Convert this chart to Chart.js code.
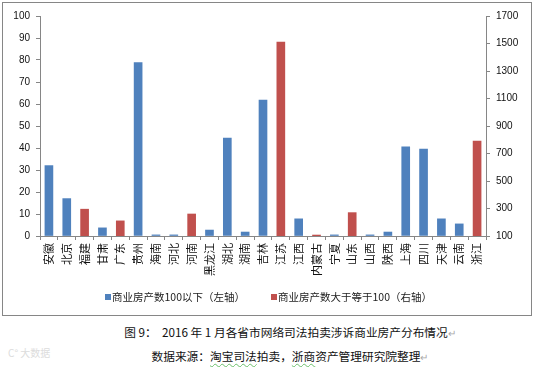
<!DOCTYPE html>
<html>
<head>
<meta charset="utf-8">
<script src="https://cdn.jsdelivr.net/npm/chart.js@4/dist/chart.umd.min.js"></script>
<style>
    body { margin: 0; background: #fff; width: 534px; height: 367px; position: relative; overflow: hidden; }
    #chart-box { position: absolute; left: 2px; top: 2px; width: 528px; height: 312px; border: 1px solid #868686; }
    #chart-box canvas { display: block; }
    .legend-item { position: absolute; top: 290px; font: 10.5px "Noto Sans CJK SC", sans-serif; color: #222; line-height: 14px; white-space: nowrap; }
    .legend-swatch { position: absolute; width: 6px; height: 6px; top: 294px; }
    .caption { position: absolute; left: 0; width: 580px; text-align: center; font: 11.7px "Noto Sans CJK SC", sans-serif; color: #111; white-space: nowrap; }
    .mark { color: #aaa; font-size: 10px; }
    .wavy { text-decoration: underline wavy #6bbf6b; text-decoration-thickness: 1px; text-underline-offset: 2px; }
    #watermark { position: absolute; left: 8px; top: 345px; font: 10px "Noto Sans CJK SC", sans-serif; color: #dcdcdc; }
</style>
</head>
<body>
<div id="chart-box"><canvas id="c" width="528" height="312"></canvas></div>

<span class="legend-swatch" style="left:105px;background:#4f81bd"></span>
<span class="legend-item" style="left:112px">商业房产数100以下（左轴）</span>
<span class="legend-swatch" style="left:271px;background:#c0504d"></span>
<span class="legend-item" style="left:278px">商业房产数大于等于100（右轴）</span>

<div class="caption" style="top:323px">图 9：&nbsp; 2016 年 1 月各省市网络司法拍卖涉诉商业房产分布情况<span class="mark">↵</span></div>
<div class="caption" style="top:347px">数据来源：<span class="wavy">淘宝司法</span>拍卖，<span class="wavy">浙商</span>资产管理研究院整理<span class="mark">↵</span></div>
<div id="watermark">C° 大数据</div>

<script>
    var categories = ['安徽', '北京', '福建', '甘肃', '广东', '贵州', '海南', '河北', '河南', '黑龙江',
        '湖北', '湖南', '吉林', '江苏', '江西', '内蒙古', '宁夏', '山东', '山西', '陕西',
        '上海', '四川', '天津', '云南', '浙江'];

    // left axis: provinces with fewer than 100 properties
    var below100 = [32, 17, null, 3.7, null, 78.8, 0.5, 0.5, null, 2.7,
        44.5, 1.8, 61.8, null, 7.8, null, 0.5, null, 0.5, 1.8,
        40.5, 39.5, 7.8, 5.5, null];

    // right axis: provinces with 100 or more
    var above100 = [null, null, 295, null, 210, null, null, null, 260, null,
        null, null, null, 1510, null, 107, null, 270, null, null,
        null, null, null, null, 790];

    var leftTicks = { min: 0, max: 100, step: 10 };
    var rightTicks = { min: 100, max: 1700, step: 200 };

    var axisGray = '#868686';
    var numFont = { family: '"Liberation Sans", Arial, sans-serif', size: 10 };

    function plainNumber(value) {
        return String(value);
    }

    new Chart(document.getElementById('c').getContext('2d'), {
        type: 'bar',
        data: {
            labels: categories,
            datasets: [
                {
                    label: '商业房产数100以下（左轴）',
                    data: below100,
                    backgroundColor: '#4f81bd',
                    yAxisID: 'y',
                    grouped: false,
                    barThickness: 8,
                },
                {
                    label: '商业房产数大于等于100（右轴）',
                    data: above100,
                    backgroundColor: '#c0504d',
                    yAxisID: 'y1',
                    grouped: false,
                    barThickness: 8,
                },
            ],
        },
        options: {
            responsive: false,
            animation: false,
            layout: { padding: { top: 13, left: 0, right: 0, bottom: 0 } },
            plugins: {
                legend: { display: false },
                tooltip: { enabled: false },
            },
            scales: {
                x: {
                    grid: { offset: true, drawOnChartArea: false, drawTicks: true, tickLength: 4, color: axisGray },
                    border: { color: axisGray },
                    ticks: {
                        autoSkip: false,
                        maxRotation: 90,
                        minRotation: 90,
                        padding: 3,
                        color: '#111',
                        font: { family: '"Noto Sans CJK SC", sans-serif', size: 11 },
                    },
                    afterFit: function (scale) { scale.height = 79; },
                },
                y: {
                    position: 'left',
                    min: leftTicks.min,
                    max: leftTicks.max,
                    ticks: { stepSize: leftTicks.step, padding: 6, color: '#111', font: numFont, callback: plainNumber },
                    grid: { drawOnChartArea: false, drawTicks: true, tickLength: 4, color: axisGray },
                    border: { color: axisGray },
                    afterFit: function (scale) { scale.width = 37; },
                },
                y1: {
                    position: 'right',
                    min: rightTicks.min,
                    max: rightTicks.max,
                    ticks: { stepSize: rightTicks.step, padding: 6, color: '#111', font: numFont, callback: plainNumber },
                    grid: { drawOnChartArea: false, drawTicks: true, tickLength: 4, color: axisGray },
                    border: { color: axisGray },
                    afterFit: function (scale) { scale.width = 45; },
                },
            },
        },
    });
</script>
</body>
</html>
